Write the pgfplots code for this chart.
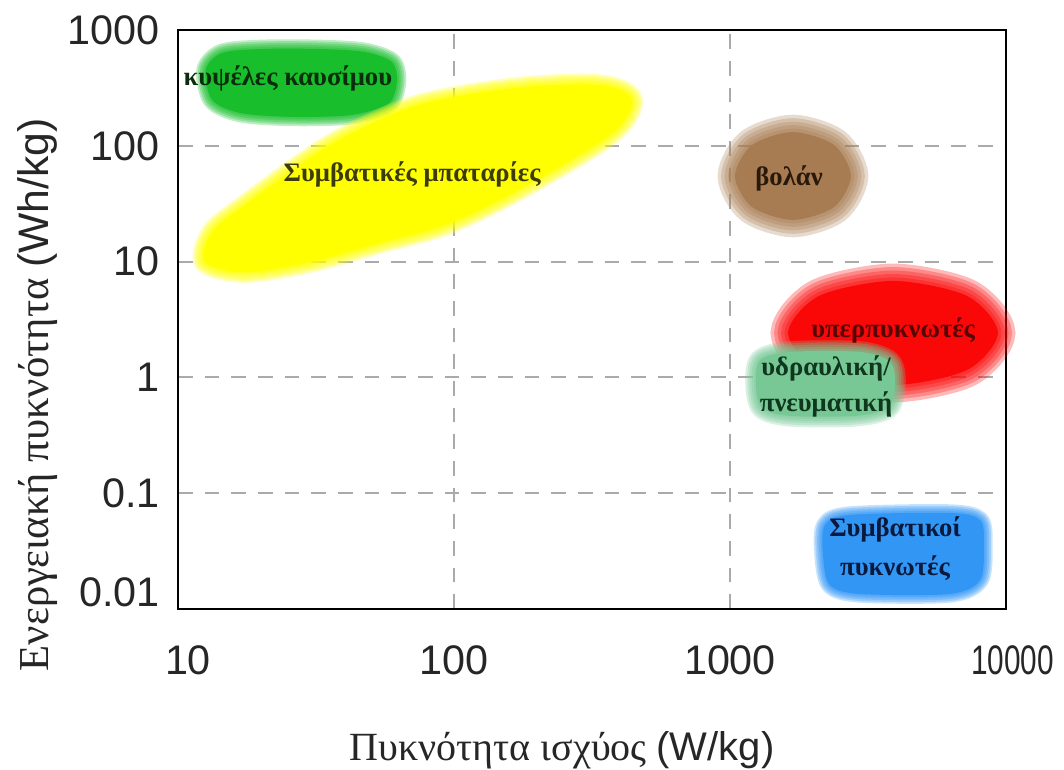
\documentclass[border=0pt]{standalone}
\usepackage{fontspec}
\setmainfont{Liberation Serif}
\newfontfamily\arialfont{Liberation Sans}
\usepackage{pgfplots}
\usepackage{pgfplotstable}
\pgfplotsset{compat=1.18}

\definecolor{fcgreen}{RGB}{25,190,45}
\definecolor{batyellow}{RGB}{255,255,0}
\definecolor{flybrown}{RGB}{168,124,82}
\definecolor{capred}{RGB}{250,8,8}
\definecolor{hydgreen}{RGB}{120,200,150}
\definecolor{capblue}{RGB}{50,150,245}
\definecolor{gridgray}{RGB}{170,170,170}
\definecolor{tfc}{RGB}{12,45,12}
\definecolor{tbat}{RGB}{60,60,10}
\definecolor{tfly}{RGB}{40,25,10}
\definecolor{tred}{RGB}{85,5,5}
\definecolor{thyd}{RGB}{15,55,30}
\definecolor{tblue}{RGB}{10,25,60}

\pgfplotstableread{
x y
12.6 452
14.4 632
19.8 685
32.7 685
47.6 646
59.6 529
62.1 356
57.7 230
42.0 184
25.5 178
16.8 192
13.3 249
}\fuelcell

\pgfplotstableread{
x y
12.5 9.9
13.3 18.0
17.5 30.8
35.6 101.6
72.3 221
166 316
338 335
442 249
367 124
166 39.9
92.7 20.7
54 14.5
30.1 9.9
17.5 8.1
}\battery

\pgfplotstableread{
x y
2742 54.8
2383 101.6
1690 131.5
1202 101.6
1042 54.8
1202 29.6
1690 22.9
2383 29.6
}\flywheel

\pgfplotstableread{
x y
9355 2.42
7230 5.05
3900 6.81
2100 5.05
1622 2.42
2100 1.16
3900 0.859
7230 1.16
}\supercap

\pgfplotstableread{
x y
1285 1.41
1648 1.66
2958 1.66
3802 1.36
3963 0.859
3733 0.545
2838 0.465
1648 0.465
1306 0.545
1242 0.859
}\hydraulic

\pgfplotstableread{
x y
2208 0.0531
2722 0.0649
6266 0.0675
8055 0.0587
8318 0.0357
8055 0.01778
6266 0.01349
2958 0.01349
2301 0.0161
2173 0.0292
}\capacitor

% blurred blob: five soft strokes of decreasing width, then the solid core
\newcommand{\blob}[3]{%
  \addplot[draw=#2, draw opacity=0.28, line width=#3, smooth cycle, mark=none] table {#1};
  \addplot[draw=#2, draw opacity=0.28, line width=0.8*#3, smooth cycle, mark=none] table {#1};
  \addplot[draw=#2, draw opacity=0.28, line width=0.6*#3, smooth cycle, mark=none] table {#1};
  \addplot[draw=#2, draw opacity=0.3, line width=0.4*#3, smooth cycle, mark=none] table {#1};
  \addplot[draw=#2, draw opacity=0.35, line width=0.2*#3, smooth cycle, mark=none] table {#1};
  \addplot[draw=none, fill=#2, smooth cycle, mark=none] table {#1};
}

\begin{document}
\begin{tikzpicture}
\path[use as bounding box] (-133.5pt,-120pt) rectangle (664.5pt,456.75pt);
\begin{axis}[
  at={(0pt,0pt)}, anchor=south west,
  scale only axis, width=621pt, height=434.25pt,
  xmode=log, ymode=log,
  xmin=10, xmax=10000, ymin=0.01, ymax=1000,
  xtick={10,100,1000,10000},
  xticklabels={\hspace*{15pt}10,100,1000,\hspace*{10pt}\scalebox{0.72}[1]{10000}},
  ytick={0.01,0.1,1,10,100,1000},
  yticklabels={\raisebox{25pt}{0.01},0.1,1,10,100,1000},
  xminorticks=false, yminorticks=false,
  major tick length=0pt,
  /pgf/number format/assume math mode=true,
  tick label style={font=\arialfont\fontsize{31}{34}\selectfont, text=black!85},
  xticklabel style={anchor=north, inner sep=0pt, yshift=-27pt},
  yticklabel style={anchor=east, inner sep=0pt, xshift=-13.5pt},
  grid=major,
  grid style={dash pattern=on 11pt off 9pt, line width=1.5pt, color=gridgray},
  axis line style={line width=2.2pt, black},
  clip=false,
  xlabel={Πυκνότητα ισχύος {\arialfont (W/kg)}},
  ylabel={Ενεργειακή πυκνότητα {\arialfont (Wh/kg)}},
  xlabel style={at={(axis description cs:0.464,-0.261)}, anchor=base, font=\fontsize{30}{34}\selectfont, text=black!85},
  ylabel style={at={(axis description cs:-0.157,0.37)}, anchor=base, font=\fontsize{32}{36}\selectfont, text=black!85},
]
\blob{\fuelcell}{fcgreen}{14pt}
\blob{\battery}{batyellow}{16pt}
\blob{\flywheel}{flybrown}{26pt}
\blob{\supercap}{capred}{26pt}
\blob{\hydraulic}{hydgreen}{16pt}
\blob{\capacitor}{capblue}{13pt}

\begin{scope}[font=\bfseries\fontsize{20}{22}\selectfont]
\node[text=tfc] at (axis cs:25.0,385) {κυψέλες καυσίμου};
\node[text=tbat] at (axis cs:70.5,57.0) {Συμβατικές μπαταρίες};
\node[text=tfly] at (axis cs:1637,52.7) {βολάν};
\node[text=tred] at (axis cs:3900,2.52) {υπερπυκνωτές};
\node[text=thyd] at (axis cs:2228,1.205) {υδραυλική/};
\node[text=thyd] at (axis cs:2228,0.589) {πνευματική};
\node[text=tblue] at (axis cs:3963,0.0491) {Συμβατικοί};
\node[text=tblue] at (axis cs:3963,0.0226) {πυκνωτές};
\end{scope}
\end{axis}
\end{tikzpicture}
\end{document}
